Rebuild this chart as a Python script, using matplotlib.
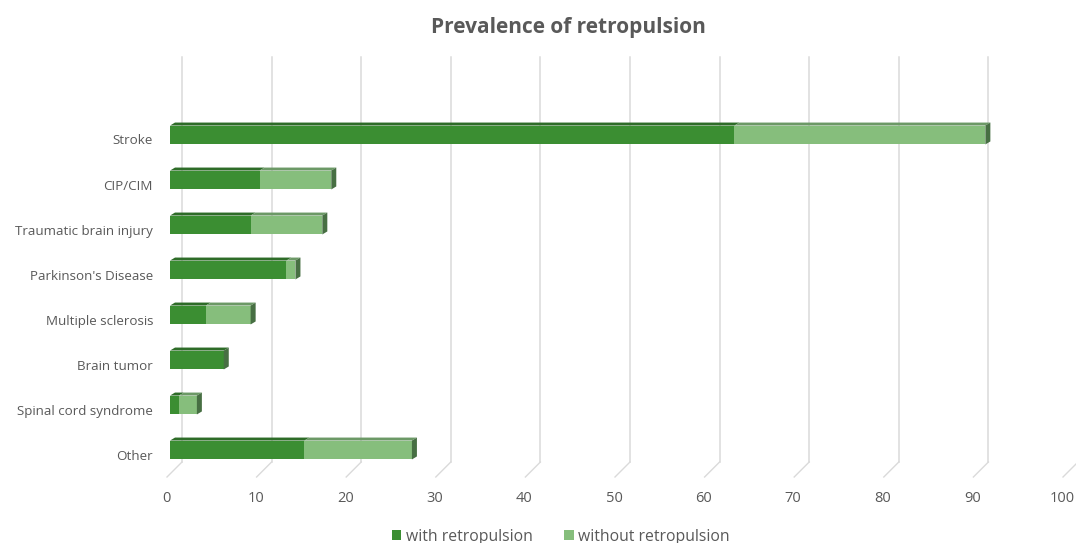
import matplotlib
matplotlib.use("Agg")
import matplotlib.pyplot as plt
from matplotlib.patches import Polygon, Patch
from matplotlib.transforms import ScaledTranslation
import numpy as np

categories = ["Stroke", "CIP/CIM", "Traumatic brain injury", "Parkinson's Disease",
              "Multiple sclerosis", "Brain tumor", "Spinal cord syndrome", "Other"]
with_retro = [63, 10, 9, 13, 4, 6, 1, 15]
without_retro = [28, 8, 8, 1, 5, 0, 2, 12]
xticks = [0, 10, 20, 30, 40, 50, 60, 70, 80, 90, 100]

c_with = "#3B8E32"
c_without = "#86BE7C"
c_with_top = "#2E6C28"
c_without_top = "#6C9966"
c_side = "#476F43"
grid_c = "#DADADA"
text_c = "#595959"

plt.rcParams["font.family"] = ["Open Sans", "DejaVu Sans"]

W, H = 1076, 543
fig = plt.figure(figsize=(W / 100, H / 100), dpi=100)
# axes box in pixels: left 170, right 1066, top 57, bottom 470
ax = fig.add_axes([170 / W, (H - 470) / H, 896 / W, (470 - 57) / H])
px_x = 896 / 100.0   # pixels per unit on x
px_y = 45.0          # pixels per category
ax.set_xlim(0, 100)
top_lim = -(135 - 57) / px_y
bot_lim = (470 - 135) / px_y
ax.set_ylim(bot_lim, top_lim)
for s in ax.spines.values():
    s.set_visible(False)

y = np.arange(len(categories))
bar_h = 0.42
depth_x = 5 / px_x
depth_y = 3 / px_y

# back wall gridlines and slanted floor lines
grid_off = ScaledTranslation(12 / 100, 0, fig.dpi_scale_trans)
floor_end = ScaledTranslation(-3 / 100, -15 / 100, fig.dpi_scale_trans)
grid_bottom = (462 - 135) / px_y
for t in xticks:
    ax.plot([t, t], [top_lim, grid_bottom], color=grid_c, lw=1.1,
            transform=ax.transData + grid_off, zorder=0, clip_on=False)
    p0 = (ax.transData + grid_off).transform((t, grid_bottom))
    p1 = (ax.transData + floor_end).transform((t, grid_bottom))
    fig.lines.append(plt.Line2D([p0[0] / W, p1[0] / W], [p0[1] / H, p1[1] / H],
                                transform=fig.transFigure, color=grid_c, lw=1.0))

# front faces
ax.barh(y, with_retro, height=bar_h, color=c_with, zorder=3)
ax.barh(y, without_retro, left=with_retro, height=bar_h, color=c_without, zorder=3)

# top and side faces for the 3d look
for i in range(len(categories)):
    yt = y[i] - bar_h / 2
    yb = y[i] + bar_h / 2
    segs = [(0, with_retro[i], c_with_top), (with_retro[i], with_retro[i] + without_retro[i], c_without_top)]
    for x0, x1, col in segs:
        if x1 <= x0:
            continue
        ax.add_patch(Polygon([(x0, yt), (x1, yt), (x1 + depth_x, yt - depth_y), (x0 + depth_x, yt - depth_y)],
                             closed=True, facecolor=col, edgecolor="none", zorder=4))
    xe = with_retro[i] + without_retro[i]
    ax.add_patch(Polygon([(xe, yt), (xe + depth_x, yt - depth_y), (xe + depth_x, yb - depth_y), (xe, yb)],
                         closed=True, facecolor=c_side, edgecolor="none", zorder=4))

ax.set_xticks(xticks)
ax.set_xticklabels([str(t) for t in xticks], color=text_c, fontsize=10.5)
ax.tick_params(axis="x", length=0, pad=15)
for lab in ax.get_xticklabels():
    lab.set_transform(lab.get_transform() + ScaledTranslation(-4 / 100, 0, fig.dpi_scale_trans))
ax.set_yticks([])

# category labels sit slightly lower, on the front floor edge
lab_tr = ax.get_yaxis_transform() + ScaledTranslation(-17 / 100, -6 / 100, fig.dpi_scale_trans)
for i, name in enumerate(categories):
    ax.text(0, y[i], name, transform=lab_tr, ha="right", va="center",
            color=text_c, fontsize=9.6)

fig.text(568 / W, 1 - 27 / H, "Prevalence of retropulsion", ha="center", va="center",
         color=text_c, fontsize=15, fontweight="bold")

handles = [Patch(facecolor=c_with, label="with retropulsion"),
           Patch(facecolor=c_without, label="without retropulsion")]
fig.legend(handles=handles, loc="center", bbox_to_anchor=(561 / W, 1 - 537 / H), ncol=2,
           frameon=False, fontsize=11.3, labelcolor=text_c, handlelength=0.6, handleheight=0.6,
           handletextpad=0.3, columnspacing=2.0)

fig.savefig("out.png", dpi=100)
